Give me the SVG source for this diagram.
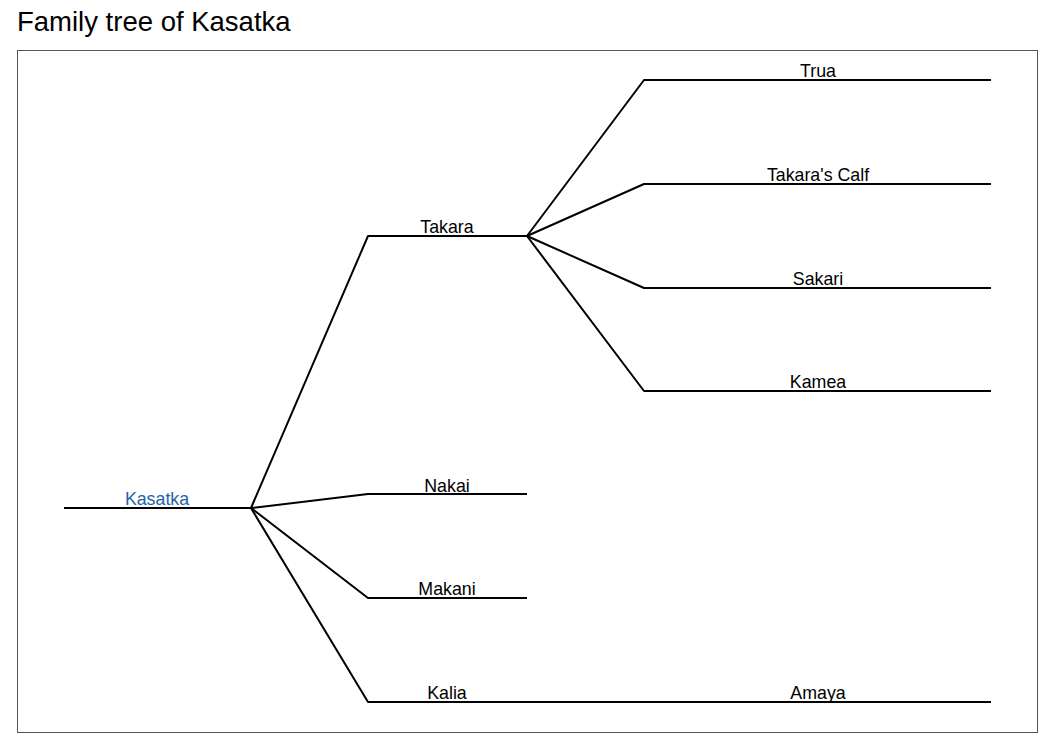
<svg xmlns="http://www.w3.org/2000/svg" width="1050" height="750" viewBox="0 0 1050 750">
<style>
.e{fill:none;stroke:#000;stroke-width:2;stroke-linejoin:round}
.l{font-family:"Liberation Sans",Arial,sans-serif;font-size:17.8px;fill:#000;text-anchor:middle}
.root{fill:#2463a8}
</style>
<rect width="1050" height="750" fill="#fff"/>
<text x="17" y="31" font-family="Liberation Sans,Arial,sans-serif" font-size="27.5" fill="#000">Family tree of Kasatka</text>
<rect x="17.5" y="50.5" width="1020" height="682" fill="none" stroke="#555" stroke-width="1"/>
<g id="connectors">
<path class="e" d="M64 508H251"/>
<path class="e" d="M251 508L368 236H527"/>
<path class="e" d="M251 508L368 494H527"/>
<path class="e" d="M251 508L368 598H527"/>
<path class="e" d="M251 508L368 702H527"/>
<path class="e" d="M527 236L644 80H991"/>
<path class="e" d="M527 236L644 184H991"/>
<path class="e" d="M527 236L644 288H991"/>
<path class="e" d="M527 236L644 391H991"/>
<path class="e" d="M527 702H991"/>
</g>
<g id="kasatka"><text class="l root" x="157" y="505">Kasatka</text></g>
<g id="takara"><text class="l" x="447" y="233">Takara</text></g>
<g id="nakai"><text class="l" x="447" y="492">Nakai</text></g>
<g id="makani"><text class="l" x="447" y="595">Makani</text></g>
<g id="kalia"><text class="l" x="447" y="699">Kalia</text></g>
<g id="trua"><text class="l" x="818" y="77">Trua</text></g>
<g id="takaras-calf"><text class="l" x="818" y="181">Takara's Calf</text></g>
<g id="sakari"><text class="l" x="818" y="285">Sakari</text></g>
<g id="kamea"><text class="l" x="818" y="388">Kamea</text></g>
<g id="amaya"><text class="l" x="818" y="699">Amaya</text></g>
</svg>
